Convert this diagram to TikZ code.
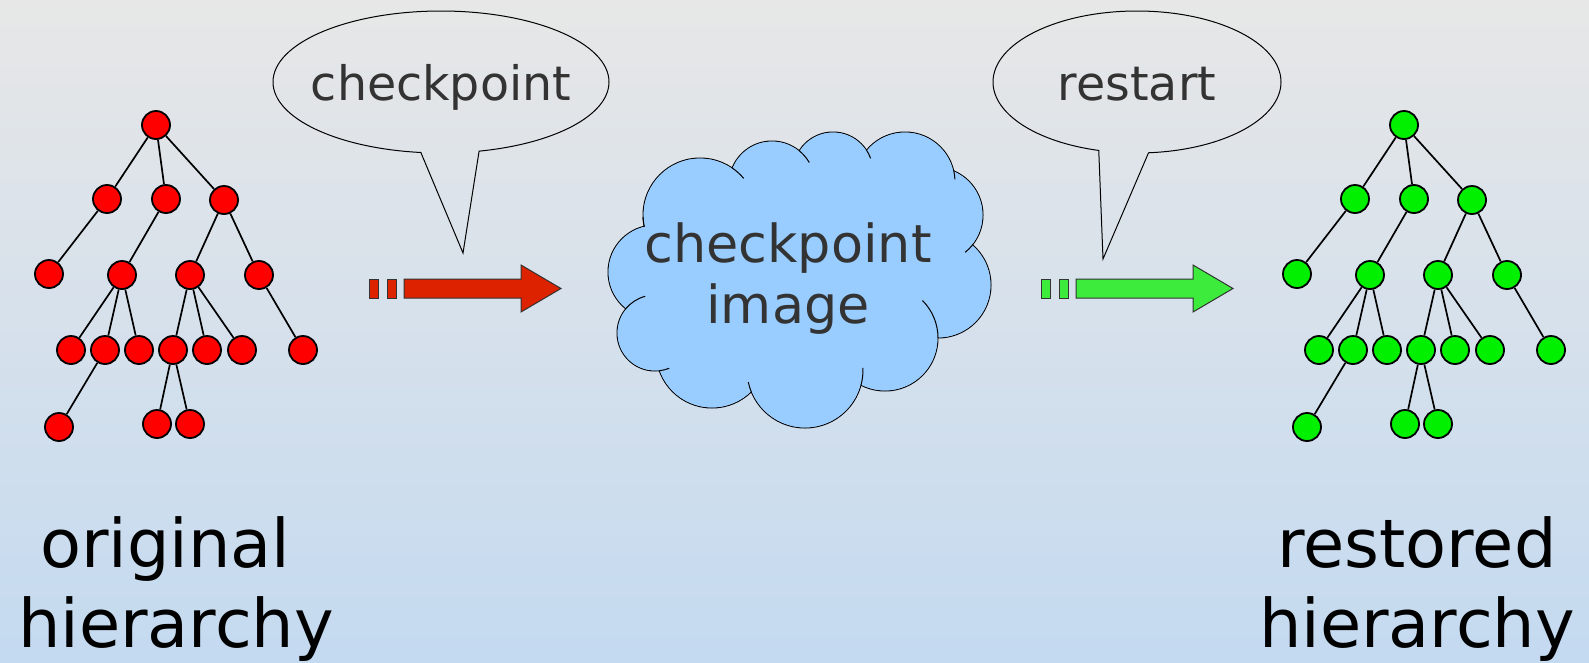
\documentclass[tikz,border=0pt]{standalone}
\usepackage{fontspec}
\setmainfont{DejaVu Sans}
\usetikzlibrary{shapes.callouts,shapes.geometric}
\definecolor{bgtop}{RGB}{231,231,231}
\definecolor{bgbot}{RGB}{196,218,240}
\definecolor{textgrey}{RGB}{51,51,51}
\definecolor{nodered}{RGB}{255,0,0}
\definecolor{nodegreen}{RGB}{0,240,0}
\definecolor{arrowred}{RGB}{221,34,0}
\definecolor{arrowgreen}{RGB}{61,235,61}
\definecolor{cloudblue}{RGB}{153,204,255}
\tikzset{
  tn/.style={circle,draw=black,line width=1.8pt,minimum size=28pt,inner sep=0pt},
  te/.style={draw=black,line width=1.7pt},
  bubble/.style={ellipse callout,draw=black,line width=1pt,inner sep=0pt,
    text=textgrey,font=\fontsize{47.5}{57}\selectfont,text height=36pt,text depth=0pt,
    callout pointer arc=20},
  arrowbody/.style={draw=textgrey,line width=1pt},
  cloudline/.style={draw=black,line width=1pt},
  cloudtext/.style={text=textgrey,font=\fontsize{52.4}{61}\selectfont,align=center},
  bigtext/.style={text=black,font=\fontsize{67}{80}\selectfont,align=center},
}
\newcommand\mytree[3]{%
\begin{scope}[xshift=#2]
\node[tn,fill=#3] (#1a) at (156,125) {};
\node[tn,fill=#3] (#1b1) at (107,199) {};
\node[tn,fill=#3] (#1b2) at (166,199) {};
\node[tn,fill=#3] (#1b3) at (224,200) {};
\node[tn,fill=#3] (#1c1) at (49,274) {};
\node[tn,fill=#3] (#1c2) at (122,275) {};
\node[tn,fill=#3] (#1c3) at (190,275) {};
\node[tn,fill=#3] (#1c4) at (259,275) {};
\node[tn,fill=#3] (#1d1) at (71,350) {};
\node[tn,fill=#3] (#1d2) at (105,350) {};
\node[tn,fill=#3] (#1d3) at (139,350) {};
\node[tn,fill=#3] (#1d4) at (173,350) {};
\node[tn,fill=#3] (#1d5) at (207,350) {};
\node[tn,fill=#3] (#1d6) at (242,350) {};
\node[tn,fill=#3] (#1d7) at (303,350) {};
\node[tn,fill=#3] (#1e1) at (59,427) {};
\node[tn,fill=#3] (#1e2) at (157,424) {};
\node[tn,fill=#3] (#1e3) at (190,424) {};
\draw[te] (#1a)--(#1b1) (#1a)--(#1b2) (#1a)--(#1b3)
  (#1b1)--(#1c1) (#1b2)--(#1c2) (#1b3)--(#1c3) (#1b3)--(#1c4)
  (#1c2)--(#1d1) (#1c2)--(#1d2) (#1c2)--(#1d3)
  (#1c3)--(#1d4) (#1c3)--(#1d5) (#1c3)--(#1d6) (#1c4)--(#1d7)
  (#1d2)--(#1e1) (#1d4)--(#1e2) (#1d4)--(#1e3);
\end{scope}}
\begin{document}
\begin{tikzpicture}[x=1pt,y=-1pt]
\useasboundingbox (0,0) rectangle (1589,662);
\shade[top color=bgtop,bottom color=bgbot] (0,0) rectangle (1589,662);
% trees
\mytree{r}{0pt}{nodered}
\mytree{g}{1248pt}{nodegreen}
% arrows
\filldraw[arrowbody,fill=arrowred] (369,279) rectangle (378,298);
\filldraw[arrowbody,fill=arrowred] (387,279) rectangle (396,298);
\filldraw[arrowbody,fill=arrowred] (404,279) -- (521,279) -- (521,265) -- (561,288.5) -- (521,312) -- (521,298) -- (404,298) -- cycle;
\filldraw[arrowbody,fill=arrowgreen] (1041,279) rectangle (1050,298);
\filldraw[arrowbody,fill=arrowgreen] (1059,279) rectangle (1068,298);
\filldraw[arrowbody,fill=arrowgreen] (1076,279) -- (1193,279) -- (1193,265) -- (1233,288.5) -- (1193,312) -- (1193,298) -- (1076,298) -- cycle;
% cloud
\foreach \cx/\cy/\r in {700/215/57,772/184/43,833/172/40,905/182/50,935/215/48,938/285/53,885/338/53,805/370/58,712/352/56,655/333/38,655/272/47}
  \filldraw[cloudline,fill=cloudblue] (\cx,\cy) circle[radius=\r];
\foreach \cx/\cy/\r in {700/215/57,772/184/43,833/172/40,905/182/50,935/215/48,938/285/53,885/338/53,805/370/58,712/352/56,655/333/38,655/272/47}
  \fill[cloudblue] (\cx,\cy) circle[radius=\r-0.6];
\fill[cloudblue] (700,215) -- (772,184) -- (833,172) -- (905,182) -- (935,215) -- (938,285) -- (885,338) -- (805,370) -- (712,352) -- (655,333) -- (655,272) -- cycle;
\foreach \cx/\cy/\r/\a/\b in {700/215/57/-55.7/-40,772/184/43/-50.8/-30,833/172/40/-33/-20,905/182/50/-13/-3,935/215/48/38/51,885/338/53/0/-45,805/370/58/15/-2,805/370/58/158/168,655/333/38/83.5/68,655/333/38/219.6/255,700/215/57/168/178}
  \draw[cloudline] (\cx,\cy) ++(\a:\r) arc[start angle=\a,end angle=\b,radius=\r];
\node[cloudtext] (cimg) at (788,279) {checkpoint\\image};
% callouts
\node[bubble,minimum width=336pt,minimum height=142pt,callout absolute pointer={(463,253)}] (cpb) at (441,82) {\makebox[0pt]{checkpoint}};
\node[bubble,minimum width=288pt,minimum height=142pt,callout absolute pointer={(1103,259)}] (rsb) at (1137,82) {\makebox[0pt]{restart}};
% labels
\node[bigtext] (orig) at (176,589) {original\hspace*{0.32em}\\hierarchy};
\node[bigtext] (rest) at (1417,589) {restored\\hierarchy};
\end{tikzpicture}
\end{document}
